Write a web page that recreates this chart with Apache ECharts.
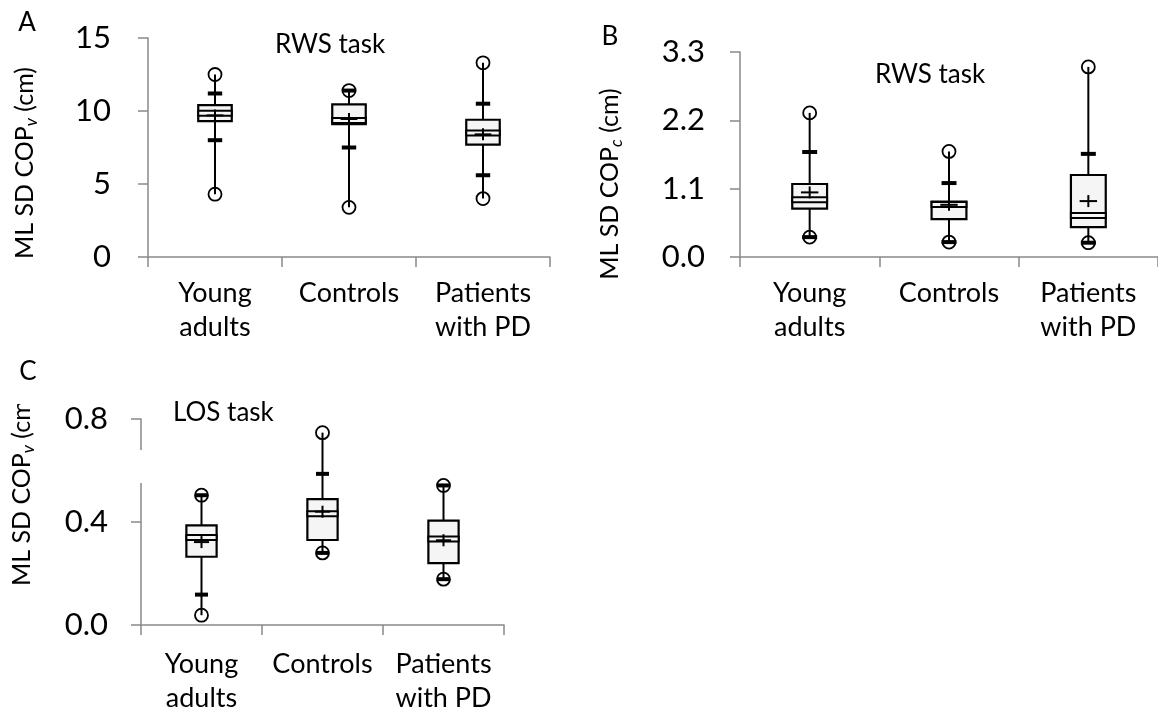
<!DOCTYPE html>
<html>
<head>
<meta charset="utf-8">
<script src="https://cdn.jsdelivr.net/npm/echarts@6/dist/echarts.min.js"></script>
<style>html,body{margin:0;padding:0;background:#fff}#c{width:1158px;height:715px}</style>
</head>
<body>
<div id="c"></div>
<script>
// ---- data ----
const categories = ['Young\nadults', 'Controls', 'Patients\nwith PD'];

// Panel A: RWS task, ML SD COPv (cm)
const aMin  = [4.3, 3.4, 4.0];
const aLo   = [8.0, 7.5, 5.6];
const aQ1   = [9.3, 9.1, 7.7];
const aMed  = [9.85, 9.35, 8.5];
const aQ3   = [10.4, 10.45, 9.4];
const aHi   = [11.2, 11.4, 10.5];
const aMax  = [12.5, 11.4, 13.3];
const aMean = [9.7, 9.45, 8.4];
const aTicks = ['0', '5', '10', '15'];

// Panel B: RWS task, ML SD COPc (cm)
const bMin  = [0.32, 0.24, 0.23];
const bLo   = [0.32, 0.24, 0.23];
const bQ1   = [0.78, 0.61, 0.48];
const bMed  = [0.92, 0.845, 0.67];
const bQ3   = [1.175, 0.89, 1.32];
const bHi   = [1.69, 1.19, 1.66];
const bMax  = [2.32, 1.70, 3.06];
const bMean = [1.04, 0.84, 0.90];
const bTicks = ['0.0', '1.1', '2.2', '3.3'];

// Panel C: LOS task, ML SD COPv (cm)
const cMin  = [0.038, 0.28, 0.178];
const cLo   = [0.118, 0.28, 0.178];
const cQ1   = [0.265, 0.33, 0.24];
const cMed  = [0.34, 0.432, 0.334];
const cQ3   = [0.387, 0.489, 0.405];
const cHi   = [0.504, 0.587, 0.542];
const cMax  = [0.504, 0.747, 0.542];
const cMean = [0.322, 0.44, 0.329];
const cTicks = ['0.0', '0.4', '0.8'];

// ---- build ----
const FONT = 'Lato, "Open Sans", sans-serif';
function rows(mn, lo, q1, med, q3, hi, mx, mean) {
  return categories.map((c, i) => [i, mn[i], lo[i], q1[i], med[i], q3[i], hi[i], mx[i], mean[i]]);
}
const panelData = [
  rows(aMin, aLo, aQ1, aMed, aQ3, aHi, aMax, aMean),
  rows(bMin, bLo, bQ1, bMed, bQ3, bHi, bMax, bMean),
  rows(cMin, cLo, cQ1, cMed, cQ3, cHi, cMax, cMean)
];

function renderItem(params, api) {
  const i = api.value(0);
  const mn = api.value(1), lo = api.value(2), q1 = api.value(3), med = api.value(4),
        q3 = api.value(5), hi = api.value(6), mx = api.value(7), mean = api.value(8);
  const cw = api.size([1, 0])[0];
  const bw = cw * 0.25, capW = bw * 0.43;
  const cx = api.coord([i, q1])[0];
  const y = v => api.coord([i, v])[1];
  const black = '#000';
  const ch = [];
  ch.push({type: 'line', shape: {x1: cx, y1: y(mn), x2: cx, y2: y(mx)}, style: {stroke: black, lineWidth: 2}});
  ch.push({type: 'rect', shape: {x: cx - bw / 2, y: y(q3), width: bw, height: y(q1) - y(q3)}, style: {fill: '#f5f5f5', stroke: black, lineWidth: 2.2}});
  ch.push({type: 'rect', shape: {x: cx - bw / 2, y: y(med) - 2.5, width: bw, height: 5}, style: {fill: '#f5f5f5', stroke: black, lineWidth: 2}});
  ch.push({type: 'line', shape: {x1: cx - bw * 0.25, y1: y(mean), x2: cx + bw * 0.25, y2: y(mean)}, style: {stroke: black, lineWidth: 2}});
  ch.push({type: 'line', shape: {x1: cx, y1: y(mean) - 6, x2: cx, y2: y(mean) + 6}, style: {stroke: black, lineWidth: 2}});
  [lo, hi].forEach(v => ch.push({type: 'rect', shape: {x: cx - capW / 2, y: y(v) - 2, width: capW, height: 4}, style: {fill: black}}));
  [mn, mx].forEach(v => ch.push({type: 'circle', shape: {cx: cx, cy: y(v), r: 6.5}, style: {fill: 'none', stroke: black, lineWidth: 1.8}}));
  return {type: 'group', children: ch};
}

const axisColor = '#898989';
const grids = [
  {left: 148, top: 38, width: 402, height: 219},
  {left: 740, top: 52, width: 427, height: 205},
  {left: 141, top: 419, width: 363, height: 211}
];
const yCfg = [
  {min: 0, max: 15, interval: 5, ticks: aTicks, margin: 37},
  {min: 0, max: 3.3, interval: 1.1, ticks: bTicks, margin: 35},
  {min: 0, max: 0.8, interval: 0.4, ticks: cTicks, margin: 33}
];

function yName(x, y, sub, z) {
  return {
    type: 'text', x: x, y: y, rotation: Math.PI / 2, z: z || 50,
    style: {
      text: '{a|ML SD COP}{s|' + sub + '}{a| (cm)}',
      align: 'center', verticalAlign: 'middle',
      rich: {
        a: {fontFamily: FONT, fontSize: 25, lineHeight: 30, fill: '#000'},
        s: {fontFamily: FONT, fontSize: 17, fontStyle: 'italic', lineHeight: 12, verticalAlign: 'bottom', fill: '#000'}
      }
    }
  };
}
function txt(x, y, t, size, align, z) {
  return {type: 'text', x: x, y: y, z: z || 60,
    style: {text: t, fontFamily: FONT, fontSize: size, fill: '#000', align: align || 'left', verticalAlign: 'middle'}};
}

const option = {
  animation: false,
  backgroundColor: '#fff',
  grid: grids,
  xAxis: [0, 1, 2].map(k => ({
    type: 'category', gridIndex: k, data: categories,
    axisLine: {lineStyle: {color: axisColor, width: 1.5}},
    axisTick: {show: true, length: 10, lineStyle: {color: axisColor, width: 1.5}},
    axisLabel: {fontFamily: FONT, fontSize: 27, lineHeight: 34, color: '#000', margin: k === 2 ? 22 : 19, interval: 0}
  })),
  yAxis: yCfg.map((c, k) => ({
    type: 'value', gridIndex: k, min: c.min, max: c.max, interval: c.interval,
    axisLine: {show: true, lineStyle: {color: axisColor, width: 1.5}},
    axisTick: {show: true, length: 10, lineStyle: {color: axisColor, width: 1.5}},
    splitLine: {show: false},
    axisLabel: {
      fontFamily: FONT, fontSize: 31, color: '#000', margin: c.margin,
      formatter: v => c.ticks[Math.round((v - c.min) / c.interval)]
    }
  })),
  series: panelData.map((d, k) => ({
    type: 'custom', xAxisIndex: k, yAxisIndex: k, data: d, clip: false,
    encode: {x: 0, y: [1, 7]}, renderItem: renderItem
  })),
  graphic: [
    yName(22, 490, 'v'),
    yName(25, 163, 'v'),
    yName(610, 184, 'c'),
    {type: 'rect', z: 100, shape: {x: 0, y: 384, width: 60, height: 20}, style: {fill: '#fff'}},
    {type: 'rect', z: 100, shape: {x: 137, y: 450, width: 8, height: 33}, style: {fill: '#fff'}},
    txt(27, 23, 'A', 26, 'center', 110),
    txt(610, 37, 'B', 26, 'center', 110),
    txt(28, 372, 'C', 26, 'center', 110),
    txt(275, 45, 'RWS task', 26),
    txt(875, 75, 'RWS task', 26),
    txt(173, 413, 'LOS task', 26)
  ]
};
echarts.init(document.getElementById('c'), null, {renderer: 'canvas'}).setOption(option);
</script>
</body>
</html>
